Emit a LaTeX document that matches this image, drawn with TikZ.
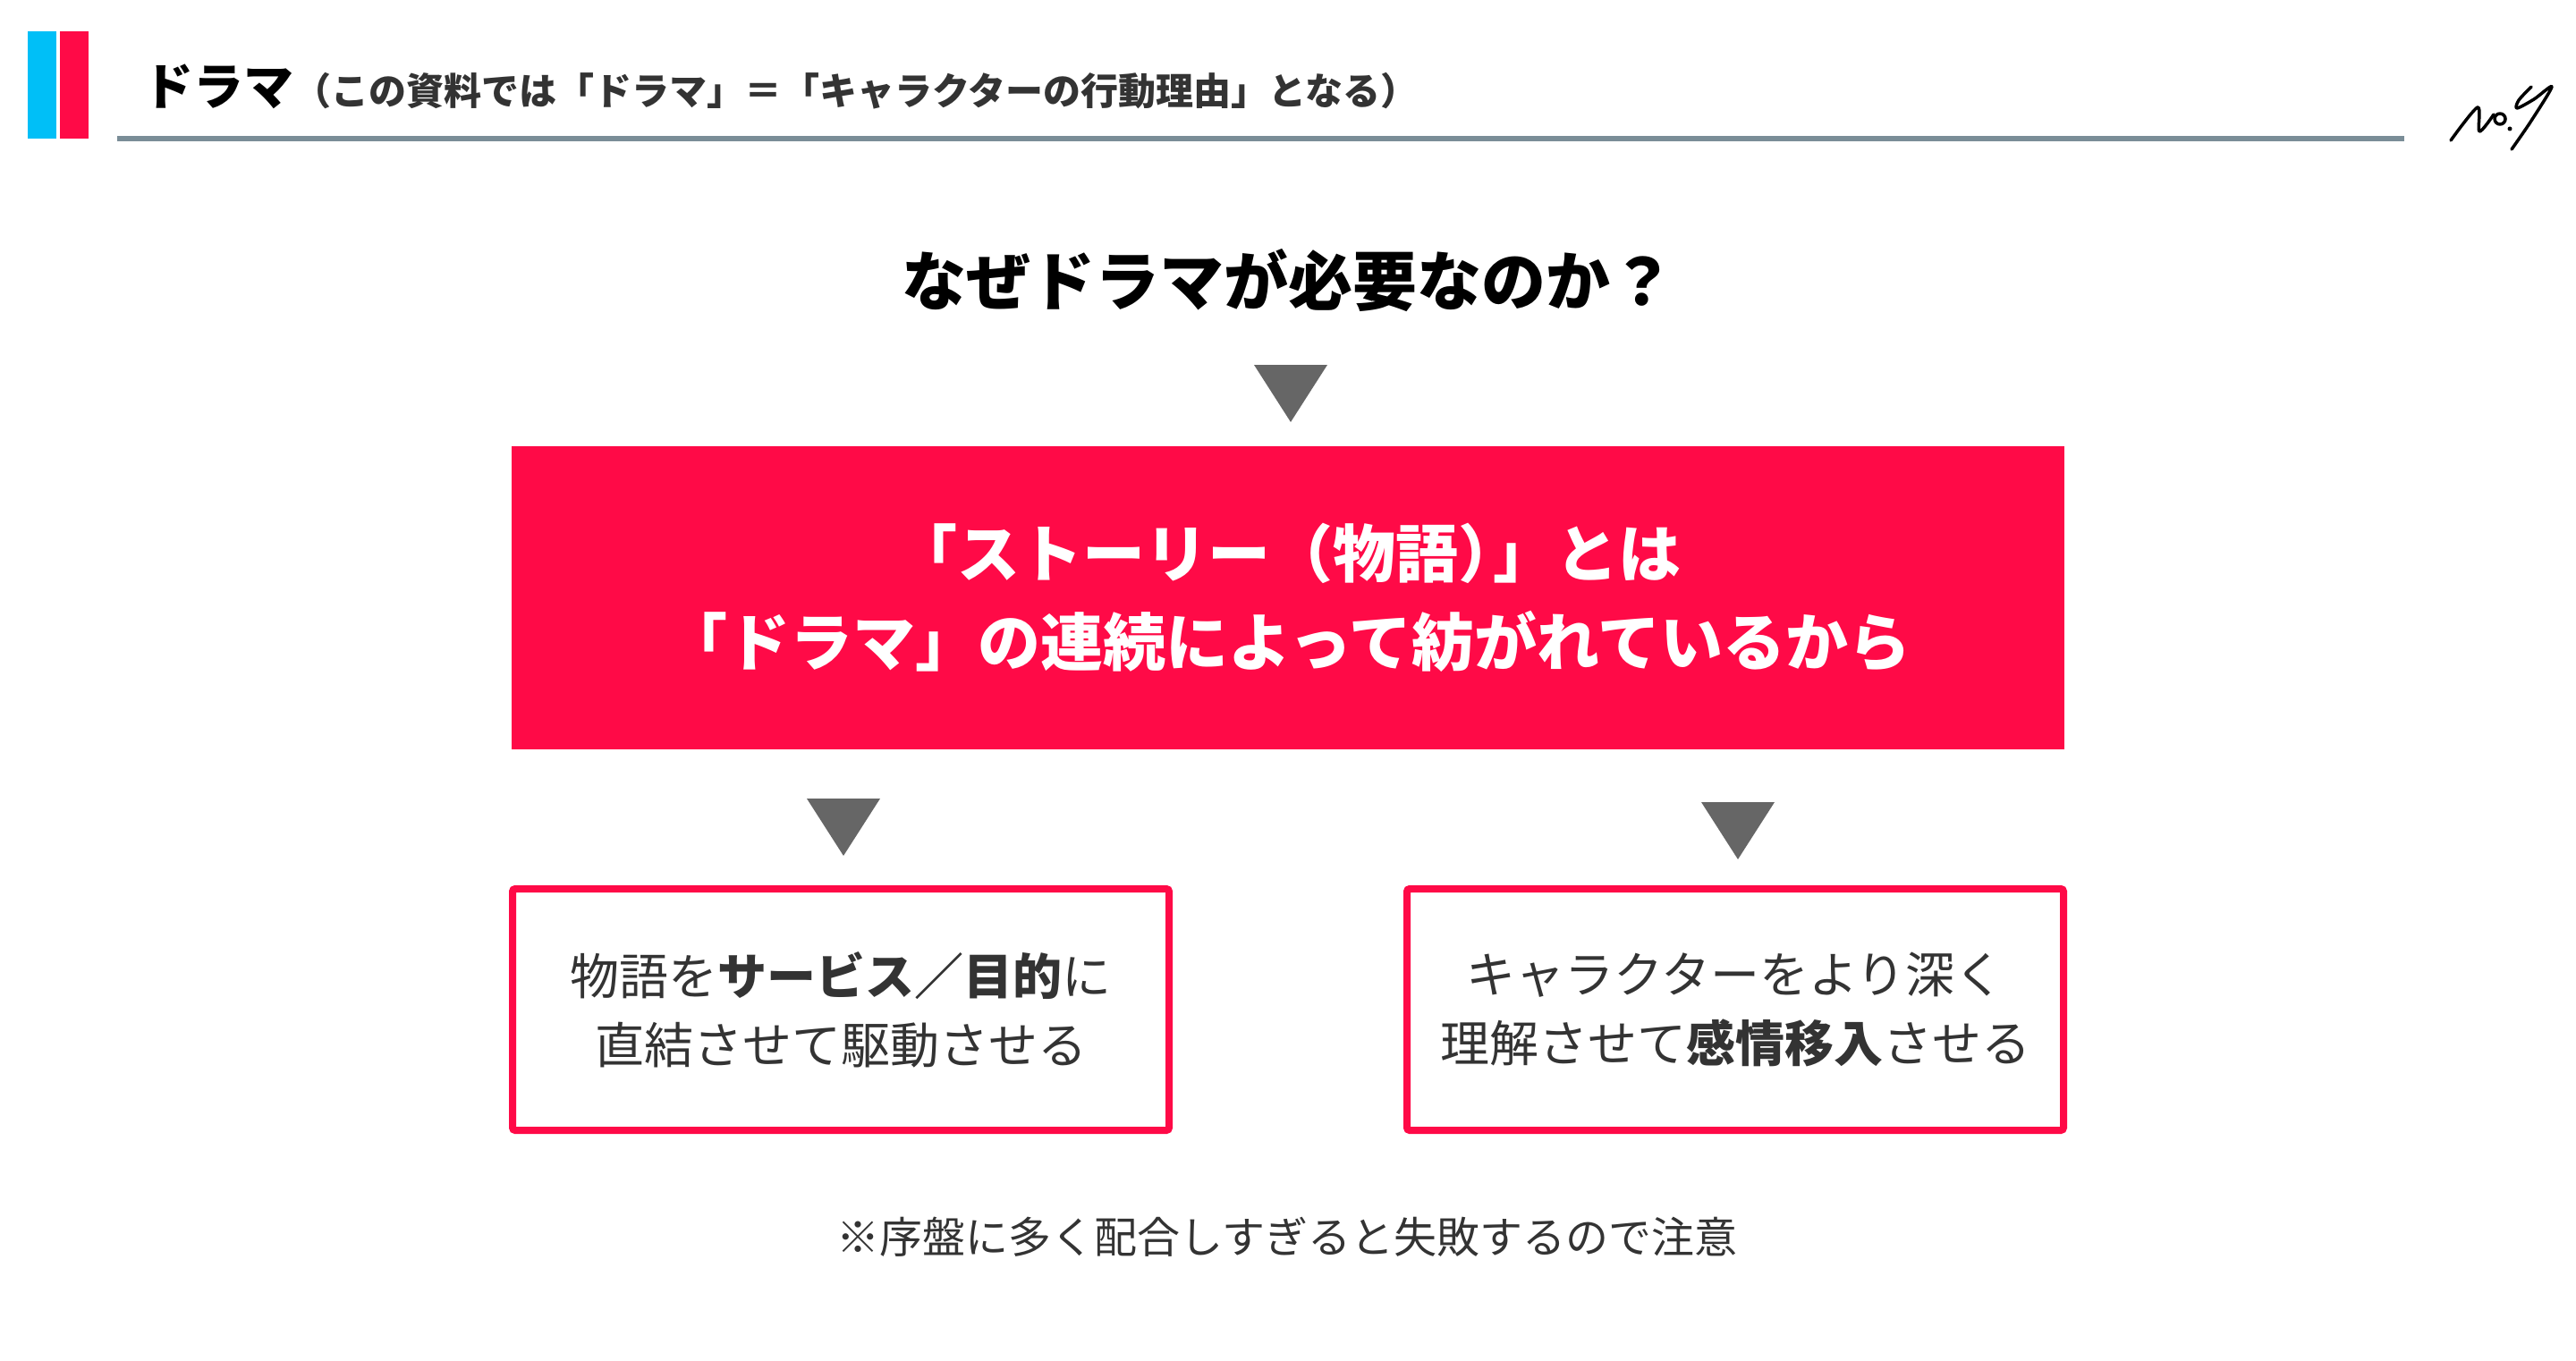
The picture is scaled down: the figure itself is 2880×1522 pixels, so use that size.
\documentclass[tikz,border=0pt]{standalone}
\usepackage{fontspec}
\setmainfont{Noto Sans CJK JP}

\definecolor{dramared}{HTML}{FF0A47}
\definecolor{dramablue}{HTML}{00BFF7}
\definecolor{rulegray}{HTML}{7A8D97}
\definecolor{arrowgray}{HTML}{666666}
\definecolor{textgray}{HTML}{333333}

\tikzset{
	reason/.style={fill=dramared, text=white, font=\bfseries\fontsize{70}{99}\selectfont, align=center, minimum width=1736pt, minimum height=339pt, inner sep=0pt},
	effect/.style={draw=dramared, line width=8pt, rounded corners=3pt, text=textgray, font=\fontsize{55}{77}\selectfont, align=center, minimum width=734pt, minimum height=270pt, inner sep=0pt},
	downtri/.style={fill=arrowgray},
	sign/.style={line width=3.5pt, line cap=round, line join=round}
}

\begin{document}
\begin{tikzpicture}[x=1pt,y=-1pt]
	\useasboundingbox (0,0) rectangle (2880,1522);
	
	% header
	\fill[dramablue] (31,35) rectangle (63,155);
	\fill[dramared] (67,35) rectangle (99,155);
	\fill[rulegray] (131,152) rectangle (2688,158);
	\node[anchor=base west, inner sep=0pt, font=\bfseries\fontsize{56}{56}\selectfont] (title) at (160,118) {ドラマ};
	\node[anchor=base west, inner sep=0pt, text=textgray, font=\bfseries\fontsize{42}{42}\selectfont] (subtitle) at (title.base east) {（この資料では「ドラマ」＝「キャラクターの行動理由」となる）};
	\draw[sign] plot[smooth] coordinates {(2740,157) (2770,120) (2772,147) (2788,128)};
	\draw[sign] (2795,133) circle (6pt);
	\fill (2806,144) circle (2.5pt);
	\draw[sign] plot[smooth] coordinates {(2830,97) (2816,112) (2814,121) (2833,111) (2853,97) (2830,135) (2808,167)};
	
	% question and reason
	\node[font=\bfseries\fontsize{72}{72}\selectfont] (question) at (1440,314) {なぜドラマが必要なのか？};
	\fill[downtri] (1402,408) -- (1484,408) -- (1443,472) -- cycle;
	\node[reason] (reason) at (1440,668) {「ストーリー（物語）\kern-0.45em」とは\\「ドラマ」の連続によって紡がれているから};
	
	% two effects
	\fill[downtri] (902,893) -- (984,893) -- (943,957) -- cycle;
	\fill[downtri] (1902,897) -- (1984,897) -- (1943,961) -- cycle;
	\node[effect] (service) at (940,1129) {物語を\textbf{サービス／目的}に\\直結させて駆動させる};
	\node[effect] (empathy) at (1940,1129) {キャラクターをより深く\\理解させて\textbf{感情移入}させる};
	
	\node[text=textgray, font=\fontsize{48}{48}\selectfont] (note) at (1439,1383) {※序盤に多く配合しすぎると失敗するので注意};
\end{tikzpicture}
\end{document}
